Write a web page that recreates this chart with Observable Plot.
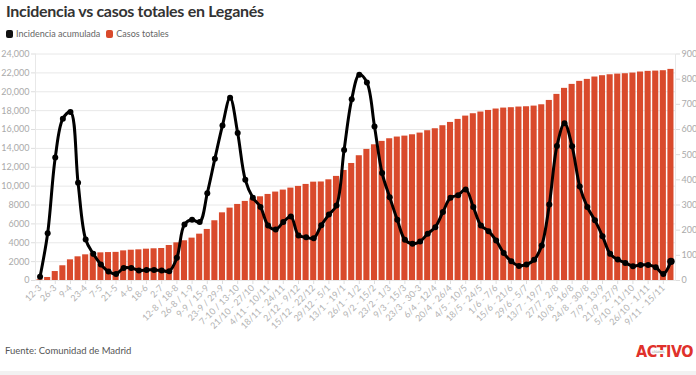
<!DOCTYPE html>
<html><head><meta charset="utf-8">
<script src="https://cdn.jsdelivr.net/npm/d3@7"></script>
<script src="https://cdn.jsdelivr.net/npm/@observablehq/plot@0.6"></script>
<style>
body{margin:0;background:#fff;font-family:Lato, sans-serif;}
#wrap{position:relative;width:696px;height:375px;overflow:hidden;background:#fff;}
#title{position:absolute;left:6px;top:1px;font-weight:700;font-size:16px;letter-spacing:-0.3px;color:#333;white-space:nowrap;}
#legend{position:absolute;left:6px;top:28px;font-size:9px;color:#666;display:flex;align-items:center;white-space:nowrap;}
.sw{display:inline-block;width:7px;height:8px;border-radius:2px;margin-right:3px;}
.it{display:flex;align-items:center;margin-right:6px;}
#chart{position:absolute;left:0;top:40px;}
#footer{position:absolute;left:5px;top:345px;font-size:9.5px;color:#555;white-space:nowrap;}
#logo{position:absolute;left:636px;top:342px;font-family:"DejaVu Sans Condensed","Liberation Sans Narrow",sans-serif;font-weight:bold;font-size:16px;color:#e0312b;letter-spacing:-0.5px;white-space:nowrap;}
#logo .sub{position:absolute;left:16px;top:8px;font-size:3px;color:#888;background:#fff;letter-spacing:0;font-weight:normal;}
#strip{position:absolute;left:0;top:371px;width:696px;height:4px;background:#f2f2f2;}
</style></head>
<body>
<div id="wrap">
  <div id="title">Incidencia vs casos totales en Leganés</div>
  <div id="legend">
    <span class="it"><span class="sw" style="background:#111"></span>Incidencia acumulada</span>
    <span class="it"><span class="sw" style="background:#d94a2c"></span>Casos totales</span>
  </div>
  <div id="chart"></div>
  <div id="footer">Fuente: Comunidad de Madrid</div>
  <div id="logo">ACTIVO<span class="sub">LEGANÉS</span></div>
  <div id="strip"></div>
</div>
<script>
const semanas = [
 "12-3","19-3","26-3","2-4","9-4","16-4","23-4","30-4","7-5","14-5",
 "21-5","28-5","4-6","11-6","18-6","25-6","2-7","9-7","12-8 / 18-8","19-8 / 25-8",
 "26-8 / 1-9","2-9 / 8-9","9-9 / 15-9","16-9 / 22-9","23-9 / 29-9","30-9 / 6-10","7-10 / 13-10","14-10 / 20-10","21/10 - 27/10","28/10 - 3/11",
 "4/11 - 10/11","11/11 - 17/11","18/11 - 24/11","25/11 - 1/12","2/12 - 9/12","10/12 - 14/12","15/12 - 22/12","23/12 - 28/12","29/12 - 5/1","6/1 - 12/1",
 "13/1 - 19/1","20/1 - 25/1","26/1 - 1/2","2/2 - 8/2","9/2 - 15/2","16/2 - 22/2","23/2 - 1/3","2/3 - 8/3","9/3 - 15/3","16/3 - 22/3",
 "23/3 - 30-3","31/3 - 5/4","6/4 - 12/4","13/4 - 19/4","20/4 - 26/4","27/4 - 3/5","4/5 - 10/5","11/5 - 17/5","18/5 - 24/5","25/5 - 31/5",
 "1/6 - 7/6","8/6 - 14/6","15/6 - 21/6","22/6 - 28/6","29/6 - 5/7","6/7 - 12/7","13/7 - 19/7","20/7 - 26/7","27/7 - 2/8","3/8 - 9/8",
 "10/8 - 16/8","17/8 - 23/8","24/8 - 30/8","31/8 - 6/9","7/9 - 13/9","14/9 - 20/9","21/9 - 27/9","28/9 - 4/10","5/10 - 11/10","12/10 - 18/10",
 "26/10 - 1/11","2/11 - 8/11","9/11 - 15/11","16/11 - 22/11"
];
const casosTotales = [
 80,320,950,1560,2190,2510,2720,2890,2930,2960,
 2980,3140,3210,3250,3320,3360,3390,3710,3990,4210,
 4490,4910,5410,6330,7170,7670,8060,8380,8660,8870,
 9120,9370,9580,9790,9970,10180,10420,10440,10670,11030,
 11660,12400,13220,13890,14380,14740,15020,15200,15300,15440,
 15620,15870,16080,16400,16750,17070,17420,17670,17850,18020,
 18170,18270,18310,18380,18410,18480,18620,19080,19720,20360,
 20780,21100,21310,21560,21700,21800,21870,21910,21980,22090,
 22160,22190,22230,22370
];
const incidencia = [
 15,188,489,643,670,388,163,106,64,36,
 26,50,50,40,42,42,40,37,90,223,
 241,232,347,484,616,726,586,400,329,292,
 219,203,232,254,179,172,168,220,262,298,
 519,720,818,787,612,427,331,241,162,146,
 155,186,212,272,329,339,362,292,219,196,
 159,109,76,58,64,82,139,302,534,625,
 533,374,292,239,176,106,83,70,57,62,
 62,53,26,76
];
const ticksIzq = [0,2000,4000,6000,8000,10000,12000,14000,16000,18000,20000,22000,24000];
const ticksDer = [0,100,200,300,400,500,600,700,800,900];

const factor = 24000/900;
const data = semanas.map((s,i)=>({semana:s, casos:casosTotales[i], inc:incidencia[i]*factor, last: i===semanas.length-1}));
const etiquetas = semanas.filter((d,i)=> i%2===0);
const fmtIzq = d => d >= 10000 ? d3.format(",")(d) : String(d);

const chart = Plot.plot({
  width:696, height:300, marginTop:13.5, marginBottom:60, marginLeft:35, marginRight:21,
  style:{fontFamily:"Lato, sans-serif", fontSize:"9px", background:"transparent", overflow:"visible"},
  x:{type:"band", domain:semanas, padding:0.2, axis:null},
  y:{domain:[0,24000], axis:null},
  marks:[
    Plot.gridY(ticksIzq, {stroke:"#e8e8e8", strokeOpacity:1}),
    Plot.frame({anchor:"left", stroke:"#e8e8e8"}),
    Plot.frame({anchor:"right", stroke:"#e8e8e8"}),
    Plot.barY(data, {x:"semana", y:"casos", fill:"#d94a2c"}),
    Plot.line(data, {x:"semana", y:"inc", curve:"catmull-rom", stroke:"#000", strokeWidth:3}),
    Plot.dot(data, {x:"semana", y:"inc", r:d=>d.last?4:2.6, fill:"#000"}),
    Plot.axisY(ticksIzq, {anchor:"left", tickFormat:fmtIzq, tickSize:4, tickPadding:2, stroke:"#ddd", fill:"#aaa", fontSize:9, label:null}),
    Plot.axisY(ticksDer.map(t=>t*factor), {anchor:"right", tickFormat:d=>String(Math.round(d/factor)), tickSize:4, tickPadding:2, stroke:"#ddd", fill:"#aaa", fontSize:9, label:null}),
    Plot.axisX(etiquetas, {tickRotate:-45, tickSize:4, tickPadding:2, stroke:"#ddd", fill:"#b3b3b3", fontSize:9, label:null})
  ]
});
document.getElementById("chart").appendChild(chart);
</script>
</body></html>
